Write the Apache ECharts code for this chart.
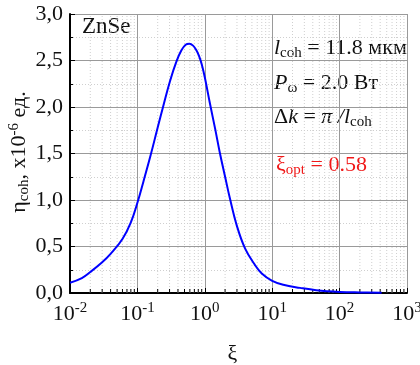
<!DOCTYPE html>
<html>
<head>
    <meta charset="utf-8">
    <script src="https://cdn.jsdelivr.net/npm/echarts@6/dist/echarts.min.js"></script>
    <title>ZnSe</title>
</head>
<body style="margin:0;background:#fff;">
    <div id="main" style="width:420px;height:365px;"></div>
    <script type="text/javascript">
        // curve: xi (log axis) and eta_coh (x1e-6)
        var xiValues = [0.01, 0.015, 0.02, 0.03, 0.04, 0.06, 0.08, 0.1, 0.123, 0.157, 0.2, 0.24, 0.305, 0.38, 0.45, 0.52, 0.59,
            0.67, 0.75, 0.82, 0.9, 1.0, 1.19, 1.42, 1.68, 2.0, 2.37, 2.97, 3.95, 5.56, 7.0, 10, 14.6, 25.9, 45, 100, 200, 420];
        var etaValues = [0.11, 0.16, 0.225, 0.33, 0.42, 0.58, 0.76, 0.97, 1.2, 1.48, 1.78, 2.0, 2.28, 2.49, 2.61, 2.67, 2.68,
            2.66, 2.61, 2.55, 2.46, 2.32, 2.04, 1.77, 1.5, 1.25, 1.01, 0.73, 0.48, 0.3, 0.21, 0.13, 0.088, 0.055, 0.03, 0.012, 0.006, 0.003];
        var decades = [0.01, 0.1, 1, 10, 100];
        var minorSteps = [2, 3, 4, 5, 6, 7, 8, 9];

        var FONT = '"Liberation Serif", "Times New Roman", serif';

        var curve = [];
        for (var i = 0; i < xiValues.length; i++) {
            curve.push([xiValues[i], etaValues[i]]);
        }
        var minorX = [];
        decades.forEach(function (d) {
            minorSteps.forEach(function (m) {
                minorX.push([d * m, 0]);
            });
        });

        var chart = echarts.init(document.getElementById('main'));

        // axis labels use "color", graphic texts use "fill"
        function axisRich(extra) {
            return Object.assign({ fontFamily: FONT, fontSize: 22, color: '#111' }, extra);
        }
        function txt(extra) {
            return Object.assign({ fontFamily: FONT, fontSize: 22, fill: '#111' }, extra);
        }

        var option = {
            animation: false,
            backgroundColor: '#fff',
            grid: { left: 70, right: 13, top: 14, bottom: 72, outerBoundsMode: 'none', containLabel: false },
            xAxis: {
                type: 'log',
                logBase: 10,
                min: 0.01,
                max: 1000,
                name: 'ξ',
                nameLocation: 'middle',
                nameGap: 50,
                nameTextStyle: { fontFamily: FONT, fontSize: 22, color: '#111', padding: [0, 12, 0, 0] },
                axisLine: { lineStyle: { color: '#000', width: 2 } },
                axisTick: { inside: true, length: 5, lineStyle: { color: '#000', width: 1 } },
                splitLine: { show: true, lineStyle: { color: '#9a9a9a', width: 1 } },
                axisLabel: {
                    margin: 8,
                    formatter: function (v) {
                        var e = Math.round(Math.log10(v));
                        return '{b|10}{s|' + (e < 0 ? '-' + (-e) : e) + '}';
                    },
                    rich: {
                        b: axisRich({}),
                        s: axisRich({ fontSize: 15, padding: [0, 0, 11, 0] })
                    }
                }
            },
            yAxis: {
                type: 'value',
                min: 0,
                max: 3,
                interval: 0.5,
                axisLine: { show: true, lineStyle: { color: '#000', width: 2 } },
                axisTick: { show: true, inside: true, length: 5, lineStyle: { color: '#000', width: 1 } },
                minorTick: { show: true, splitNumber: 2, length: 3, lineStyle: { color: '#000', width: 1 } },
                splitLine: { show: true, lineStyle: { color: '#9a9a9a', width: 1 } },
                minorSplitLine: { show: true, lineStyle: { color: '#cfcfcf', type: [1, 2], width: 1 } },
                axisLabel: {
                    margin: 7,
                    fontFamily: FONT,
                    fontSize: 22,
                    color: '#111',
                    formatter: function (v) {
                        return v.toFixed(1).replace('.', ',');
                    }
                }
            },
            series: [{
                type: 'custom',
                z: 1,
                silent: true,
                clip: false,
                data: minorX,
                encode: { x: 0, y: 1 },
                renderItem: function (params, api) {
                    var x = api.value(0);
                    var p0 = api.coord([x, 0]);
                    var p1 = api.coord([x, 3]);
                    return {
                        type: 'group',
                        children: [{
                            type: 'line',
                            shape: { x1: p0[0], y1: p0[1], x2: p1[0], y2: p1[1] },
                            style: { stroke: '#cfcfcf', lineWidth: 1, lineDash: [1, 2] }
                        }, {
                            type: 'line',
                            shape: { x1: p0[0], y1: p0[1], x2: p0[0], y2: p0[1] - 4 },
                            style: { stroke: '#000', lineWidth: 1 }
                        }]
                    };
                }
            }, {
                type: 'line',
                z: 3,
                data: curve,
                smooth: 0.4,
                symbol: 'none',
                lineStyle: { color: '#0000ff', width: 2 }
            }],
            graphic: [{
                type: 'text',
                x: 82,
                y: 27,
                style: { text: 'ZnSe', font: '23px ' + FONT, fill: '#111', verticalAlign: 'middle' }
            }, {
                type: 'text',
                x: 274,
                y: 48,
                style: {
                    text: '{i|l}{s|coh}{n| = 11.8 мкм}',
                    verticalAlign: 'middle',
                    rich: {
                        i: txt({ fontStyle: 'italic' }),
                        s: txt({ fontSize: 15, padding: [10, 0, 0, 0] }),
                        n: txt({})
                    }
                }
            }, {
                type: 'text',
                x: 274,
                y: 83,
                style: {
                    text: '{i|P}{s|ω}{n| = 2.0 Вт}',
                    verticalAlign: 'middle',
                    rich: {
                        i: txt({ fontStyle: 'italic' }),
                        s: txt({ fontSize: 15, padding: [10, 0, 0, 0] }),
                        n: txt({})
                    }
                }
            }, {
                type: 'text',
                x: 274,
                y: 117,
                style: {
                    text: '{n|Δ}{i|k}{n| = }{i|π /l}{s|coh}',
                    verticalAlign: 'middle',
                    rich: {
                        i: txt({ fontStyle: 'italic' }),
                        s: txt({ fontSize: 15, padding: [10, 0, 0, 0] }),
                        n: txt({})
                    }
                }
            }, {
                type: 'text',
                x: 276,
                y: 165,
                style: {
                    text: '{n|ξ}{s|opt}{n| = 0.58}',
                    verticalAlign: 'middle',
                    rich: {
                        s: txt({ fontSize: 15, padding: [10, 0, 0, 0], fill: '#f01818' }),
                        n: txt({ fill: '#f01818' })
                    }
                }
            }, {
                type: 'text',
                x: 19,
                y: 152,
                rotation: Math.PI / 2,
                style: {
                    text: '{n|η}{s|coh}{n|, x10}{p|-6}{n| ед.}',
                    align: 'center',
                    verticalAlign: 'middle',
                    rich: {
                        s: txt({ fontSize: 15, padding: [10, 0, 0, 0] }),
                        p: txt({ fontSize: 15, padding: [0, 0, 10, 0] }),
                        n: txt({})
                    }
                }
            }]
        };

        chart.setOption(option);
    </script>
</body>
</html>
